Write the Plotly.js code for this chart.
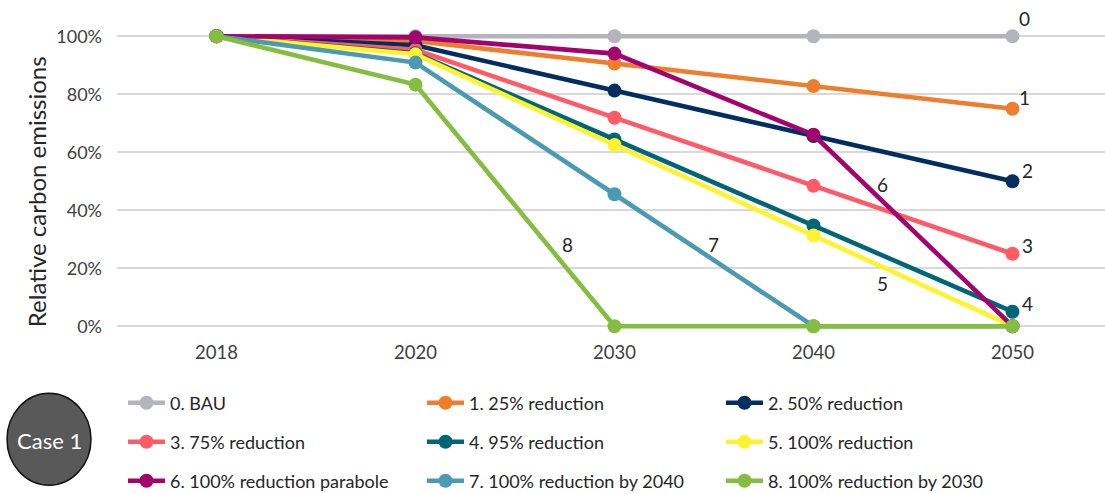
<!DOCTYPE html>
<html>
<head>
<meta charset="utf-8">
<script src="https://cdn.plot.ly/plotly-3.0.1.min.js"></script>
<style>html,body{margin:0;padding:0;background:#fff;}#chart{width:1105px;height:494px;}</style>
</head>
<body>
<div id="chart"></div>
<script>
const years = ['2018', '2020', '2030', '2040', '2050'];
const seriesNames = [
  '0. BAU', '1. 25% reduction', '2. 50% reduction',
  '3. 75% reduction', '4. 95% reduction', '5. 100% reduction',
  '6. 100% reduction parabole', '7. 100% reduction by 2040', '8. 100% reduction by 2030'
];
const s0 = [1.00, 1.00, 1.00, 1.00, 1.00];
const s1 = [1.00, 0.984, 0.906, 0.828, 0.75];
const s2 = [1.00, 0.969, 0.8125, 0.656, 0.50];
const s3 = [1.00, 0.953, 0.719, 0.484, 0.25];
const s4 = [1.00, 0.941, 0.644, 0.347, 0.05];
const s5 = [1.00, 0.9375, 0.625, 0.3125, 0.00];
const s6 = [1.00, 0.996, 0.94, 0.66, 0.00];
const s7 = [1.00, 0.909, 0.455, 0.00, 0.00];
const s8 = [1.00, 0.833, 0.00, 0.00, 0.00];
const seriesValues = [s0, s1, s2, s3, s4, s5, s6, s7, s8];
const colors = ['#b4b4bc', '#ee7d2c', '#002d62', '#ff5b67', '#006677', '#fff22e', '#a3036f', '#4a9ab3', '#84bd40'];
const lineLabels = ['0', '1', '2', '3', '4', '5', '6', '7', '8'];
const labelX = [4.06, 4.06, 4.075, 4.075, 4.075, 3.345, 3.345, 2.497, 1.764];
const labelY = [1.062, 0.79, 0.538, 0.28, 0.077, 0.148, 0.49, 0.283, 0.283];
const yTitle = 'Relative carbon emissions';

const FONT = 'Lato, "Open Sans", sans-serif';
const legendIds = ['legend', 'legend', 'legend', 'legend2', 'legend2', 'legend2', 'legend3', 'legend3', 'legend3'];

// layout geometry (pixels)
const W = 1105, H = 494;
const yMin = -0.02, yMax = 1.08;
const plotTop = 12.8, plotBottom = 331.8, plotLeft = 117;
const plotH = plotBottom - plotTop, plotW = W - plotLeft;
const pxX = p => (p - plotLeft) / plotW;
const pxY = p => (plotBottom - p) / plotH;

const traces = seriesValues.map((v, i) => ({
  type: 'scatter',
  mode: 'lines+markers',
  x: years,
  y: v,
  name: seriesNames[i],
  legend: legendIds[i],
  line: {color: colors[i], width: 4.6},
  marker: {color: colors[i], size: 14},
  cliponaxis: false,
  hoverinfo: 'x+y+name'
}));

const annotations = lineLabels.map((t, i) => ({
  text: t, x: labelX[i], y: labelY[i], xref: 'x', yref: 'y',
  xanchor: 'center', yanchor: 'middle',
  showarrow: false, font: {family: FONT, size: 19, color: '#262626'}
}));
annotations.push({
  text: 'Case 1', xref: 'paper', yref: 'paper', x: pxX(49), y: pxY(440),
  xanchor: 'center', yanchor: 'middle',
  showarrow: false, font: {family: FONT, size: 22, color: '#ffffff'}
});
annotations.push({
  text: yTitle, xref: 'paper', yref: 'paper', x: pxX(36), y: pxY(192),
  xanchor: 'center', yanchor: 'middle', textangle: -90,
  showarrow: false, font: {family: FONT, size: 24, color: '#262626'}
});

const legendBase = {
  orientation: 'h', xref: 'container', yref: 'container',
  x: 123 / W, xanchor: 'left', yanchor: 'middle',
  itemwidth: 37, entrywidth: 247, entrywidthmode: 'pixels',
  font: {family: FONT, size: 18, color: '#262626'},
  bgcolor: 'rgba(0,0,0,0)', itemclick: false, itemdoubleclick: false
};

const layout = {
  width: W, height: H,
  margin: {l: plotLeft, r: 0, t: plotTop, b: H - plotBottom, autoexpand: false},
  paper_bgcolor: '#ffffff', plot_bgcolor: '#ffffff',
  font: {family: FONT, color: '#404040'},
  showlegend: true,
  legend: Object.assign({}, legendBase, {y: (H - 403) / H}),
  legend2: Object.assign({}, legendBase, {y: (H - 442) / H}),
  legend3: Object.assign({}, legendBase, {y: (H - 481) / H}),
  xaxis: {
    type: 'category', range: [-0.5, 4.465],
    showgrid: false, zeroline: false, showline: false, ticks: '',
    tickfont: {family: FONT, size: 18.5, color: '#404040'},
    ticklabelstandoff: 7, fixedrange: true
  },
  yaxis: {
    range: [yMin, yMax], tickvals: [0, 0.2, 0.4, 0.6, 0.8, 1.0],
    tickformat: '.0%', showgrid: true, gridcolor: '#d9d9d9', gridwidth: 1.5,
    zeroline: false, showline: false, ticks: '',
    tickfont: {family: FONT, size: 18, color: '#404040'},
    ticklabelstandoff: 14,
    fixedrange: true
  },
  shapes: [{
    type: 'circle', xref: 'paper', yref: 'paper',
    x0: pxX(7), x1: pxX(91), y0: pxY(485), y1: pxY(393),
    fillcolor: '#595959', line: {color: '#111111', width: 1.5}, layer: 'above'
  }],
  annotations: annotations
};

Plotly.newPlot('chart', traces, layout, {displayModeBar: false, staticPlot: false});
</script>
</body>
</html>
